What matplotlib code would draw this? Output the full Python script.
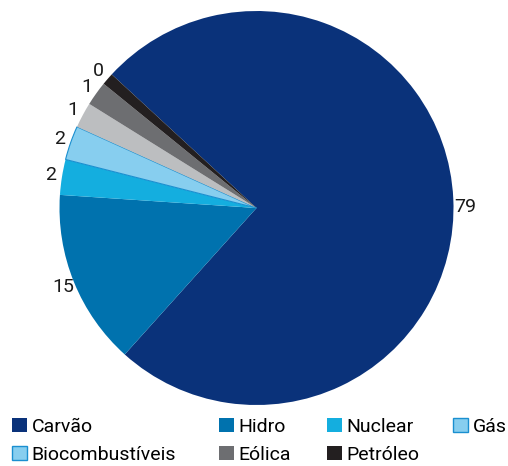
import matplotlib
matplotlib.use("Agg")
import matplotlib.pyplot as plt
from matplotlib.patches import Patch

plt.rcParams['font.family'] = ['Roboto', 'DejaVu Sans']

# fontes (ordem do gráfico)
names = ['Carvão', 'Hidro', 'Nuclear', 'Gás', 'Biocombustíveis', 'Eólica', 'Petróleo']
# fatias como desenhadas no original (%)
shares = [74.8, 14.4, 2.9, 2.8, 2.1, 2.0, 1.0]
# rótulos impressos
value_labels = ['79', '15', '2', '2', '1', '1', '0']
colors = ['#0a327a', '#0072ae', '#14aedf', '#87ceef', '#bcbec0', '#6d6e71', '#231f20']
legend_colors = ['#0a327a', '#0072ae', '#14aedf', '#87ceef', '#87ceef', '#6d6e71', '#231f20']
legend_edges = [None, None, None, '#1a8fd0', '#1a8fd0', None, None]

W, H = 508, 466
fig = plt.figure(figsize=(W / 100, H / 100), dpi=100)

# pie centre (256.5, 208) px, radius 197 px
cx, cy, r = 256.5, 208, 197
ax = fig.add_axes([(cx - r) / W, (H - cy - r) / H, 2 * r / W, 2 * r / H])

wedges, texts = ax.pie(shares, labels=value_labels, colors=colors,
                       startangle=137.3, counterclock=False,
                       labeldistance=1.06,
                       wedgeprops=dict(linewidth=0),
                       textprops=dict(fontsize=14, ha='center', va='center', color='#1a1a1a'))
wedges[3].set_edgecolor('#1a8fd0')
wedges[3].set_linewidth(0.8)
# "79" sits a bit lower in the original
tx, ty = texts[0].get_position()
texts[0].set_position((tx, ty - 0.045))
ax.set_xlim(-1, 1)
ax.set_ylim(-1, 1)

# legenda em colunas
cols = [[0, 4], [1, 5], [2, 6], [3]]
col_x = [12, 219, 327, 453]
for idx, x in zip(cols, col_x):
    handles = []
    for i in idx:
        handles.append(Patch(facecolor=legend_colors[i],
                             edgecolor=legend_edges[i] or legend_colors[i],
                             linewidth=1.0 if legend_edges[i] else 0))
    fig.legend(handles, [names[i] for i in idx], loc='upper left',
               bbox_to_anchor=(x / W, (H - 418) / H), frameon=False,
               fontsize=14, borderpad=0, borderaxespad=0,
               handlelength=0.75, handleheight=0.75, handletextpad=0.25,
               labelspacing=0.5)

fig.savefig('out.png', dpi=100)
